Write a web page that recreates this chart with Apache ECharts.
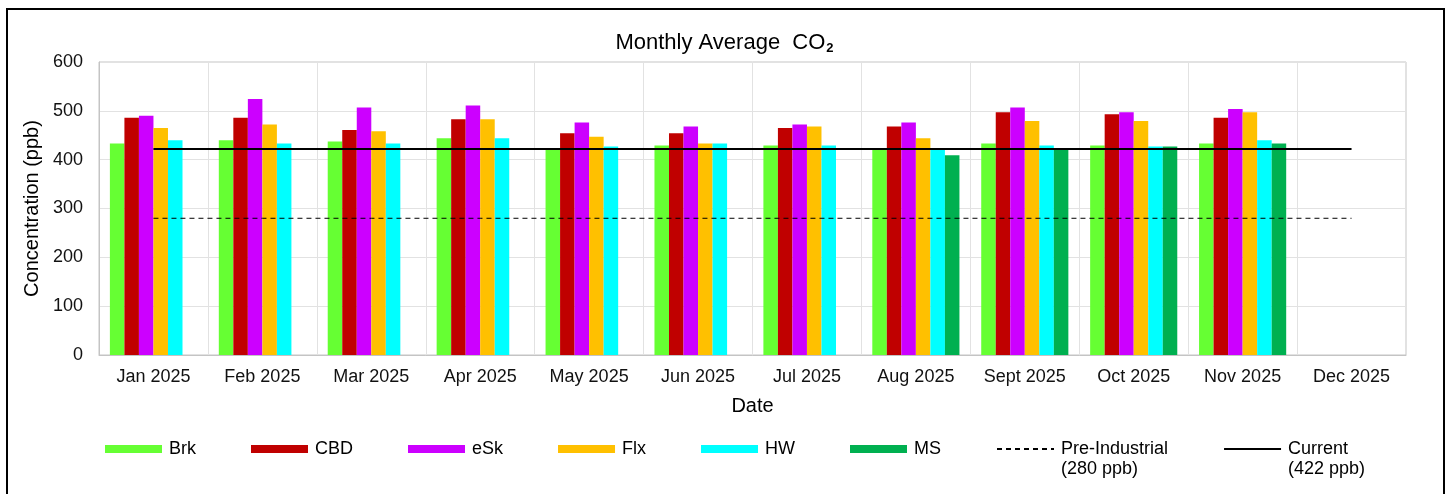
<!DOCTYPE html>
<html>
<head>
<meta charset="utf-8">
<title>Monthly Average CO2</title>
<script src="https://cdn.jsdelivr.net/npm/echarts@6/dist/echarts.min.js"></script>
<style>
  html, body { margin: 0; padding: 0; background: #ffffff; }
  #chart { width: 1449px; height: 494px; }
</style>
</head>
<body>
<div id="chart"></div>
<script>
// Months on the x axis
const months = ['Jan 2025', 'Feb 2025', 'Mar 2025', 'Apr 2025', 'May 2025', 'Jun 2025',
                'Jul 2025', 'Aug 2025', 'Sept 2025', 'Oct 2025', 'Nov 2025', 'Dec 2025'];

// Monthly average CO2 (ppb) per site; null = no data for that month
const brk = [433, 440, 437, 444, 423, 429, 429, 421, 433, 429, 433, null];
const cbd = [486, 486, 461, 483, 454, 454, 465, 468, 497, 493, 486, null];
const esk = [490, 524, 507, 511, 476, 468, 472, 476, 507, 497, 504, null];
const flx = [465, 472, 458, 483, 447, 433, 468, 444, 479, 479, 497, null];
const hw  = [440, 433, 433, 444, 427, 433, 429, 420, 429, 427, 440, null];
const ms  = [null, null, null, null, null, null, null, 409, 422, 427, 433, null];

// Reference levels drawn across the months
const preIndustrial = [280, 280, 280, 280, 280, 280, 280, 280, 280, 280, 280, 280];
const current       = [422, 422, 422, 422, 422, 422, 422, 422, 422, 422, 422, 422];

// Y axis ticks
const yTicks = [0, 100, 200, 300, 400, 500, 600];

const FONT = "'Liberation Sans', Arial, sans-serif";

const siteSeries = [
  { name: 'Brk', data: brk, color: '#66FF33' },
  { name: 'CBD', data: cbd, color: '#C00000' },
  { name: 'eSk', data: esk, color: '#CC00FF' },
  { name: 'Flx', data: flx, color: '#FFC000' },
  { name: 'HW',  data: hw,  color: '#00FFFF' },
  { name: 'MS',  data: ms,  color: '#00B050' }
];

const chart = echarts.init(document.getElementById('chart'), null, { renderer: 'canvas' });

const series = siteSeries.map(s => ({
  name: s.name,
  type: 'bar',
  data: s.data,
  barGap: '0%',
  barCategoryGap: '20%',
  itemStyle: { color: s.color },
  emphasis: { disabled: true },
  z: 2
}));

series.push({
  name: 'Pre-Industrial',
  type: 'line',
  data: preIndustrial,
  symbol: 'none',
  lineStyle: { color: '#000000', width: 1, type: [5, 4] },
  emphasis: { disabled: true },
  z: 5
});
series.push({
  name: 'Current',
  type: 'line',
  data: current,
  symbol: 'none',
  lineStyle: { color: '#000000', width: 2 },
  emphasis: { disabled: true },
  z: 5
});

const hiddenDot = { color: 'transparent', borderColor: 'transparent', borderWidth: 0 };
const textShift = { padding: [0, 0, 0, 2] };

chart.setOption({
  animation: false,
  backgroundColor: '#ffffff',
  title: {
    text: '{a|Monthly Average  CO}{b|2}',
    left: 'center',
    top: 25,
    textStyle: {
      rich: {
        a: { fontFamily: FONT, fontSize: 22, color: '#000', fontWeight: 'normal' },
        b: { fontFamily: FONT, fontSize: 13, color: '#000', verticalAlign: 'bottom', padding: [12, 0, 0, 1] }
      }
    }
  },
  grid: {
    left: 99, right: 43, top: 62, bottom: 139,
    show: true, borderColor: '#c4c4c4', borderWidth: 1, backgroundColor: '#ffffff'
  },
  legend: {
    left: 105,
    top: 419,
    padding: 0,
    itemWidth: 57,
    itemHeight: 8,
    itemGap: 55,
    selectedMode: false,
    textStyle: { fontFamily: FONT, fontSize: 18, color: '#000', lineHeight: 20 },
    data: [
      { name: 'Brk', icon: 'rect', textStyle: textShift },
      { name: 'CBD', icon: 'rect', textStyle: textShift },
      { name: 'eSk', icon: 'rect', textStyle: textShift },
      { name: 'Flx', icon: 'rect', textStyle: textShift },
      { name: 'HW',  icon: 'rect', textStyle: textShift },
      { name: 'MS',  icon: 'rect', textStyle: textShift },
      { name: 'Pre-Industrial', textStyle: textShift, itemStyle: hiddenDot },
      { name: 'Current', textStyle: textShift, itemStyle: hiddenDot }
    ],
    // two-line labels for the reference levels; the blank first line keeps
    // the name level with its line icon and puts the value underneath
    formatter: function (name) {
      if (name === 'Pre-Industrial') return '\nPre-Industrial\n(' + preIndustrial[0] + ' ppb)';
      if (name === 'Current') return '\nCurrent\n(' + current[0] + ' ppb)';
      return name;
    }
  },
  xAxis: {
    type: 'category',
    data: months,
    boundaryGap: true,
    name: 'Date',
    nameLocation: 'middle',
    nameGap: 41,
    nameTextStyle: { fontFamily: FONT, fontSize: 20, color: '#000' },
    axisLine: { show: true, lineStyle: { color: '#c4c4c4', width: 1 } },
    axisTick: { show: false },
    axisLabel: { fontFamily: FONT, fontSize: 18, color: '#111', margin: 13, interval: 0 },
    splitLine: { show: true, interval: 0, lineStyle: { color: '#e2e2e2', width: 1 } }
  },
  yAxis: {
    type: 'value',
    min: yTicks[0],
    max: yTicks[yTicks.length - 1],
    interval: yTicks[1] - yTicks[0],
    name: 'Concentration (ppb)',
    nameLocation: 'middle',
    nameRotate: 90,
    nameGap: 52,
    nameTextStyle: { fontFamily: FONT, fontSize: 20, color: '#000' },
    axisLine: { show: true, lineStyle: { color: '#c4c4c4', width: 1 } },
    axisTick: { show: false },
    axisLabel: { fontFamily: FONT, fontSize: 18, color: '#111', margin: 16 },
    splitLine: { show: true, lineStyle: { color: '#e2e2e2', width: 1 } }
  },
  graphic: [{
    type: 'rect',
    shape: { x: 7, y: 9, width: 1437, height: 500 },
    style: { fill: 'none', stroke: '#000000', lineWidth: 2 },
    silent: true,
    z: 100
  }],
  series: series
});
</script>
</body>
</html>
